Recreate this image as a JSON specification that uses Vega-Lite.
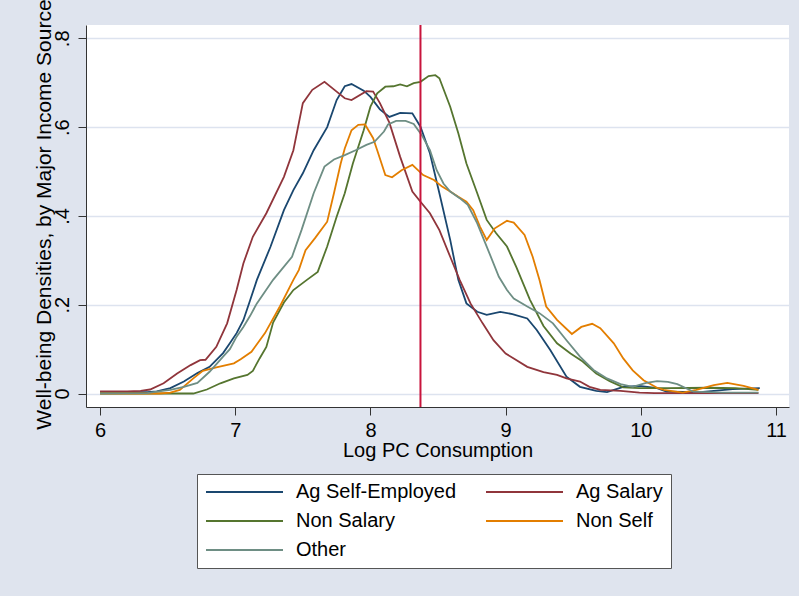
{
  "$schema": "https://vega.github.io/schema/vega-lite/v6.json",
  "width": 703,
  "height": 382,
  "autosize": {"type": "none"},
  "padding": {"left": 86, "top": 25, "right": 10, "bottom": 189},
  "background": "#dfe4ee",
  "config": {
    "font": "Liberation Sans",
    "view": {"fill": "white", "stroke": null},
    "axis": {"labelFont": "Liberation Sans", "titleFont": "Liberation Sans", "labelFontSize": 20, "titleFontSize": 20, "titleFontWeight": "normal", "labelColor": "#000", "titleColor": "#000", "domainColor": "#333", "tickColor": "#333", "tickSize": 8, "domainWidth": 1, "tickWidth": 1}
  },
  "datasets": {
    "curves": [
      {"s":"Ag Self-Employed","x":6.0,"y":0.003},{"s":"Ag Self-Employed","x":6.2,"y":0.003},{"s":"Ag Self-Employed","x":6.35,"y":0.003},{"s":"Ag Self-Employed","x":6.42,"y":0.005},{"s":"Ag Self-Employed","x":6.52,"y":0.012},{"s":"Ag Self-Employed","x":6.62,"y":0.027},{"s":"Ag Self-Employed","x":6.72,"y":0.046},{"s":"Ag Self-Employed","x":6.81,"y":0.06},{"s":"Ag Self-Employed","x":6.91,"y":0.091},{"s":"Ag Self-Employed","x":6.96,"y":0.113},{"s":"Ag Self-Employed","x":7.01,"y":0.136},{"s":"Ag Self-Employed","x":7.06,"y":0.165},{"s":"Ag Self-Employed","x":7.11,"y":0.21},{"s":"Ag Self-Employed","x":7.16,"y":0.256},{"s":"Ag Self-Employed","x":7.26,"y":0.33},{"s":"Ag Self-Employed","x":7.36,"y":0.413},{"s":"Ag Self-Employed","x":7.43,"y":0.458},{"s":"Ag Self-Employed","x":7.5,"y":0.496},{"s":"Ag Self-Employed","x":7.58,"y":0.548},{"s":"Ag Self-Employed","x":7.68,"y":0.6},{"s":"Ag Self-Employed","x":7.75,"y":0.661},{"s":"Ag Self-Employed","x":7.81,"y":0.692},{"s":"Ag Self-Employed","x":7.86,"y":0.697},{"s":"Ag Self-Employed","x":7.95,"y":0.682},{"s":"Ag Self-Employed","x":8.0,"y":0.668},{"s":"Ag Self-Employed","x":8.07,"y":0.64},{"s":"Ag Self-Employed","x":8.14,"y":0.623},{"s":"Ag Self-Employed","x":8.22,"y":0.632},{"s":"Ag Self-Employed","x":8.31,"y":0.631},{"s":"Ag Self-Employed","x":8.37,"y":0.601},{"s":"Ag Self-Employed","x":8.44,"y":0.541},{"s":"Ag Self-Employed","x":8.51,"y":0.451},{"s":"Ag Self-Employed","x":8.59,"y":0.346},{"s":"Ag Self-Employed","x":8.65,"y":0.256},{"s":"Ag Self-Employed","x":8.71,"y":0.203},{"s":"Ag Self-Employed","x":8.79,"y":0.184},{"s":"Ag Self-Employed","x":8.86,"y":0.177},{"s":"Ag Self-Employed","x":8.96,"y":0.184},{"s":"Ag Self-Employed","x":9.05,"y":0.179},{"s":"Ag Self-Employed","x":9.16,"y":0.169},{"s":"Ag Self-Employed","x":9.23,"y":0.143},{"s":"Ag Self-Employed","x":9.33,"y":0.098},{"s":"Ag Self-Employed","x":9.45,"y":0.038},{"s":"Ag Self-Employed","x":9.55,"y":0.015},{"s":"Ag Self-Employed","x":9.67,"y":0.006},{"s":"Ag Self-Employed","x":9.75,"y":0.003},{"s":"Ag Self-Employed","x":9.87,"y":0.015},{"s":"Ag Self-Employed","x":9.99,"y":0.017},{"s":"Ag Self-Employed","x":10.12,"y":0.012},{"s":"Ag Self-Employed","x":10.19,"y":0.004},{"s":"Ag Self-Employed","x":10.44,"y":0.003},{"s":"Ag Self-Employed","x":10.68,"y":0.01},{"s":"Ag Self-Employed","x":10.88,"y":0.012},

      {"s":"Ag Salary","x":6.0,"y":0.005},{"s":"Ag Salary","x":6.2,"y":0.005},{"s":"Ag Salary","x":6.3,"y":0.006},{"s":"Ag Salary","x":6.37,"y":0.009},{"s":"Ag Salary","x":6.47,"y":0.023},{"s":"Ag Salary","x":6.57,"y":0.045},{"s":"Ag Salary","x":6.67,"y":0.064},{"s":"Ag Salary","x":6.74,"y":0.075},{"s":"Ag Salary","x":6.78,"y":0.076},{"s":"Ag Salary","x":6.86,"y":0.105},{"s":"Ag Salary","x":6.94,"y":0.158},{"s":"Ag Salary","x":7.01,"y":0.233},{"s":"Ag Salary","x":7.06,"y":0.293},{"s":"Ag Salary","x":7.13,"y":0.353},{"s":"Ag Salary","x":7.23,"y":0.406},{"s":"Ag Salary","x":7.36,"y":0.488},{"s":"Ag Salary","x":7.43,"y":0.548},{"s":"Ag Salary","x":7.5,"y":0.654},{"s":"Ag Salary","x":7.57,"y":0.684},{"s":"Ag Salary","x":7.66,"y":0.702},{"s":"Ag Salary","x":7.75,"y":0.68},{"s":"Ag Salary","x":7.81,"y":0.665},{"s":"Ag Salary","x":7.86,"y":0.661},{"s":"Ag Salary","x":7.97,"y":0.681},{"s":"Ag Salary","x":8.02,"y":0.68},{"s":"Ag Salary","x":8.07,"y":0.654},{"s":"Ag Salary","x":8.14,"y":0.61},{"s":"Ag Salary","x":8.22,"y":0.533},{"s":"Ag Salary","x":8.31,"y":0.455},{"s":"Ag Salary","x":8.37,"y":0.432},{"s":"Ag Salary","x":8.44,"y":0.406},{"s":"Ag Salary","x":8.51,"y":0.368},{"s":"Ag Salary","x":8.59,"y":0.308},{"s":"Ag Salary","x":8.66,"y":0.256},{"s":"Ag Salary","x":8.74,"y":0.203},{"s":"Ag Salary","x":8.83,"y":0.158},{"s":"Ag Salary","x":8.91,"y":0.12},{"s":"Ag Salary","x":9.0,"y":0.09},{"s":"Ag Salary","x":9.06,"y":0.079},{"s":"Ag Salary","x":9.16,"y":0.06},{"s":"Ag Salary","x":9.28,"y":0.048},{"s":"Ag Salary","x":9.38,"y":0.042},{"s":"Ag Salary","x":9.45,"y":0.034},{"s":"Ag Salary","x":9.55,"y":0.027},{"s":"Ag Salary","x":9.62,"y":0.015},{"s":"Ag Salary","x":9.7,"y":0.008},{"s":"Ag Salary","x":9.85,"y":0.006},{"s":"Ag Salary","x":9.99,"y":0.002},{"s":"Ag Salary","x":10.1,"y":0.001},{"s":"Ag Salary","x":10.87,"y":0.001},

      {"s":"Non Salary","x":6.0,"y":0.0},{"s":"Non Salary","x":6.69,"y":0.0},{"s":"Non Salary","x":6.79,"y":0.009},{"s":"Non Salary","x":6.89,"y":0.023},{"s":"Non Salary","x":6.99,"y":0.034},{"s":"Non Salary","x":7.09,"y":0.042},{"s":"Non Salary","x":7.13,"y":0.051},{"s":"Non Salary","x":7.18,"y":0.079},{"s":"Non Salary","x":7.23,"y":0.105},{"s":"Non Salary","x":7.28,"y":0.16},{"s":"Non Salary","x":7.36,"y":0.205},{"s":"Non Salary","x":7.43,"y":0.233},{"s":"Non Salary","x":7.53,"y":0.256},{"s":"Non Salary","x":7.61,"y":0.274},{"s":"Non Salary","x":7.68,"y":0.331},{"s":"Non Salary","x":7.75,"y":0.398},{"s":"Non Salary","x":7.81,"y":0.451},{"s":"Non Salary","x":7.87,"y":0.518},{"s":"Non Salary","x":7.95,"y":0.593},{"s":"Non Salary","x":8.0,"y":0.646},{"s":"Non Salary","x":8.05,"y":0.676},{"s":"Non Salary","x":8.11,"y":0.691},{"s":"Non Salary","x":8.17,"y":0.692},{"s":"Non Salary","x":8.22,"y":0.696},{"s":"Non Salary","x":8.27,"y":0.692},{"s":"Non Salary","x":8.32,"y":0.699},{"s":"Non Salary","x":8.37,"y":0.702},{"s":"Non Salary","x":8.43,"y":0.715},{"s":"Non Salary","x":8.48,"y":0.717},{"s":"Non Salary","x":8.51,"y":0.71},{"s":"Non Salary","x":8.59,"y":0.646},{"s":"Non Salary","x":8.65,"y":0.586},{"s":"Non Salary","x":8.71,"y":0.518},{"s":"Non Salary","x":8.79,"y":0.451},{"s":"Non Salary","x":8.86,"y":0.391},{"s":"Non Salary","x":8.93,"y":0.361},{"s":"Non Salary","x":9.01,"y":0.331},{"s":"Non Salary","x":9.08,"y":0.284},{"s":"Non Salary","x":9.18,"y":0.211},{"s":"Non Salary","x":9.28,"y":0.152},{"s":"Non Salary","x":9.38,"y":0.113},{"s":"Non Salary","x":9.48,"y":0.09},{"s":"Non Salary","x":9.57,"y":0.072},{"s":"Non Salary","x":9.67,"y":0.045},{"s":"Non Salary","x":9.77,"y":0.028},{"s":"Non Salary","x":9.87,"y":0.014},{"s":"Non Salary","x":9.99,"y":0.012},{"s":"Non Salary","x":10.2,"y":0.012},{"s":"Non Salary","x":10.5,"y":0.013},{"s":"Non Salary","x":10.7,"y":0.012},{"s":"Non Salary","x":10.87,"y":0.008},

      {"s":"Non Self","x":6.0,"y":0.0},{"s":"Non Self","x":6.44,"y":0.0},{"s":"Non Self","x":6.52,"y":0.002},{"s":"Non Self","x":6.59,"y":0.008},{"s":"Non Self","x":6.69,"y":0.034},{"s":"Non Self","x":6.76,"y":0.051},{"s":"Non Self","x":6.86,"y":0.059},{"s":"Non Self","x":6.99,"y":0.068},{"s":"Non Self","x":7.04,"y":0.077},{"s":"Non Self","x":7.12,"y":0.094},{"s":"Non Self","x":7.22,"y":0.136},{"s":"Non Self","x":7.33,"y":0.196},{"s":"Non Self","x":7.43,"y":0.256},{"s":"Non Self","x":7.47,"y":0.278},{"s":"Non Self","x":7.52,"y":0.323},{"s":"Non Self","x":7.59,"y":0.35},{"s":"Non Self","x":7.68,"y":0.387},{"s":"Non Self","x":7.73,"y":0.451},{"s":"Non Self","x":7.78,"y":0.518},{"s":"Non Self","x":7.81,"y":0.552},{"s":"Non Self","x":7.86,"y":0.593},{"s":"Non Self","x":7.91,"y":0.605},{"s":"Non Self","x":7.96,"y":0.606},{"s":"Non Self","x":8.02,"y":0.575},{"s":"Non Self","x":8.05,"y":0.548},{"s":"Non Self","x":8.11,"y":0.492},{"s":"Non Self","x":8.16,"y":0.487},{"s":"Non Self","x":8.23,"y":0.503},{"s":"Non Self","x":8.31,"y":0.515},{"s":"Non Self","x":8.39,"y":0.492},{"s":"Non Self","x":8.47,"y":0.481},{"s":"Non Self","x":8.53,"y":0.466},{"s":"Non Self","x":8.59,"y":0.455},{"s":"Non Self","x":8.65,"y":0.443},{"s":"Non Self","x":8.71,"y":0.432},{"s":"Non Self","x":8.76,"y":0.413},{"s":"Non Self","x":8.81,"y":0.376},{"s":"Non Self","x":8.86,"y":0.346},{"s":"Non Self","x":8.92,"y":0.372},{"s":"Non Self","x":9.01,"y":0.389},{"s":"Non Self","x":9.06,"y":0.385},{"s":"Non Self","x":9.14,"y":0.357},{"s":"Non Self","x":9.2,"y":0.308},{"s":"Non Self","x":9.25,"y":0.256},{"s":"Non Self","x":9.3,"y":0.196},{"s":"Non Self","x":9.38,"y":0.166},{"s":"Non Self","x":9.49,"y":0.134},{"s":"Non Self","x":9.56,"y":0.15},{"s":"Non Self","x":9.64,"y":0.157},{"s":"Non Self","x":9.7,"y":0.147},{"s":"Non Self","x":9.8,"y":0.113},{"s":"Non Self","x":9.87,"y":0.079},{"s":"Non Self","x":9.94,"y":0.052},{"s":"Non Self","x":10.02,"y":0.03},{"s":"Non Self","x":10.12,"y":0.013},{"s":"Non Self","x":10.17,"y":0.008},{"s":"Non Self","x":10.31,"y":0.002},{"s":"Non Self","x":10.41,"y":0.008},{"s":"Non Self","x":10.54,"y":0.019},{"s":"Non Self","x":10.64,"y":0.024},{"s":"Non Self","x":10.76,"y":0.017},{"s":"Non Self","x":10.87,"y":0.008},

      {"s":"Other","x":6.0,"y":0.0},{"s":"Other","x":6.35,"y":0.001},{"s":"Other","x":6.42,"y":0.004},{"s":"Other","x":6.52,"y":0.008},{"s":"Other","x":6.62,"y":0.015},{"s":"Other","x":6.72,"y":0.024},{"s":"Other","x":6.81,"y":0.049},{"s":"Other","x":6.91,"y":0.083},{"s":"Other","x":6.96,"y":0.1},{"s":"Other","x":7.01,"y":0.128},{"s":"Other","x":7.06,"y":0.15},{"s":"Other","x":7.11,"y":0.175},{"s":"Other","x":7.16,"y":0.203},{"s":"Other","x":7.28,"y":0.256},{"s":"Other","x":7.42,"y":0.308},{"s":"Other","x":7.49,"y":0.368},{"s":"Other","x":7.58,"y":0.451},{"s":"Other","x":7.66,"y":0.511},{"s":"Other","x":7.73,"y":0.527},{"s":"Other","x":7.81,"y":0.537},{"s":"Other","x":7.89,"y":0.548},{"s":"Other","x":7.97,"y":0.56},{"s":"Other","x":8.03,"y":0.567},{"s":"Other","x":8.1,"y":0.59},{"s":"Other","x":8.13,"y":0.606},{"s":"Other","x":8.19,"y":0.614},{"s":"Other","x":8.26,"y":0.614},{"s":"Other","x":8.32,"y":0.607},{"s":"Other","x":8.38,"y":0.582},{"s":"Other","x":8.44,"y":0.548},{"s":"Other","x":8.49,"y":0.503},{"s":"Other","x":8.54,"y":0.473},{"s":"Other","x":8.59,"y":0.455},{"s":"Other","x":8.66,"y":0.44},{"s":"Other","x":8.72,"y":0.425},{"s":"Other","x":8.79,"y":0.383},{"s":"Other","x":8.86,"y":0.331},{"s":"Other","x":8.95,"y":0.263},{"s":"Other","x":9.01,"y":0.233},{"s":"Other","x":9.06,"y":0.214},{"s":"Other","x":9.16,"y":0.196},{"s":"Other","x":9.25,"y":0.181},{"s":"Other","x":9.35,"y":0.158},{"s":"Other","x":9.45,"y":0.12},{"s":"Other","x":9.55,"y":0.083},{"s":"Other","x":9.65,"y":0.053},{"s":"Other","x":9.75,"y":0.034},{"s":"Other","x":9.85,"y":0.021},{"s":"Other","x":9.94,"y":0.015},{"s":"Other","x":10.04,"y":0.024},{"s":"Other","x":10.12,"y":0.028},{"s":"Other","x":10.2,"y":0.026},{"s":"Other","x":10.27,"y":0.021},{"s":"Other","x":10.39,"y":0.004},{"s":"Other","x":10.6,"y":0.002},{"s":"Other","x":10.87,"y":0.002}
    ],
    "marker": [{"x": 8.37}]
  },
  "layer": [
    {
      "data": {"name": "curves"},
      "mark": {"type": "line", "strokeWidth": 1.8, "clip": true},
      "encoding": {
        "x": {"field": "x", "type": "quantitative", "scale": {"domain": [5.896, 11.096], "nice": false, "zero": false},
          "axis": {"values": [6, 7, 8, 9, 10, 11], "format": "d", "title": "Log PC Consumption", "grid": false, "labelPadding": 5, "titleY": 33, "titleBaseline": "top"}},
        "y": {"field": "y", "type": "quantitative", "scale": {"domain": [-0.0304, 0.83], "nice": false, "zero": false},
          "axis": {"values": [0, 0.2, 0.4, 0.6, 0.8], "labelExpr": "datum.value == 0 ? '0' : '.' + round(datum.value * 10)", "title": "Well-being Densities, by Major Income Source", "titleFontSize": 21, "grid": true, "gridColor": "#dde3ef", "gridWidth": 1.5, "labelAngle": 270, "labelAlign": "center", "labelBaseline": "middle", "labelPadding": 16, "titleX": -42, "titleY": 189, "titleAngle": 270, "titleAlign": "center", "titleBaseline": "middle"}},
        "color": {"field": "s", "type": "nominal",
          "scale": {"domain": ["Ag Self-Employed", "Ag Salary", "Non Salary", "Non Self", "Other"], "range": ["#1a476f", "#90353b", "#55752f", "#e37e00", "#6e8e84"]},
          "legend": {"title": null, "orient": "none", "direction": "horizontal", "legendX": 111, "legendY": 449, "columns": 2, "symbolType": "stroke", "symbolSize": 5929, "symbolStrokeWidth": 2, "clipHeight": 20, "labelFontSize": 20, "labelFont": "Liberation Sans", "labelColor": "#000", "labelOffset": 12, "labelLimit": 400, "rowPadding": 9, "columnPadding": 28, "padding": 8, "fillColor": "white", "strokeColor": "#555"}}
      }
    },
    {
      "data": {"name": "marker"},
      "mark": {"type": "rule", "color": "#c8143c", "strokeWidth": 2},
      "encoding": {"x": {"field": "x", "type": "quantitative"}}
    }
  ]
}
